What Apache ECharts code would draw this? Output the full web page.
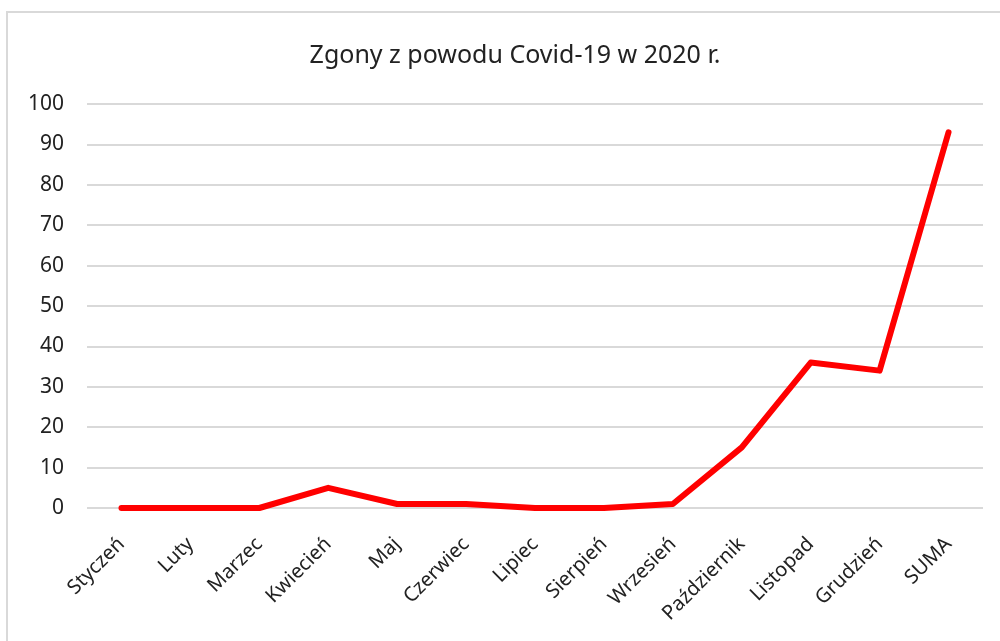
<!DOCTYPE html>
<html>
<head>
<meta charset="utf-8">
<script src="https://cdn.jsdelivr.net/npm/echarts@6/dist/echarts.min.js"></script>
<style>
html, body { margin: 0; padding: 0; background: #fff; }
#chart { width: 1000px; height: 641px; }
</style>
</head>
<body>
<div id="chart"></div>
<script>
// dane
var months = ['Styczeń', 'Luty', 'Marzec', 'Kwiecień', 'Maj', 'Czerwiec', 'Lipiec',
    'Sierpień', 'Wrzesień', 'Październik', 'Listopad', 'Grudzień', 'SUMA'];
var deaths = [0, 0, 0, 5, 1, 1, 0, 0, 1, 15, 36, 34, 93];
var yTicks = [0, 10, 20, 30, 40, 50, 60, 70, 80, 90, 100];

var chartDom = document.getElementById('chart');
var myChart = echarts.init(chartDom);
var font = '"Noto Sans", "Open Sans", sans-serif';
var option = {
    animation: false,
    graphic: [{
        type: 'rect',
        shape: { x: 7, y: 12, width: 1010, height: 700 },
        style: { fill: 'none', stroke: '#d9d9d9', lineWidth: 2 },
        z: -1
    }],
    title: {
        text: 'Zgony z powodu Covid-19 w 2020 r.',
        left: 510,
        textAlign: 'center',
        top: 38,
        textStyle: { fontFamily: font, fontSize: 25, fontWeight: 'normal', color: '#222' }
    },
    grid: { left: 87, right: 17, top: 104, bottom: 133, containLabel: false },
    xAxis: {
        type: 'category',
        data: months,
        boundaryGap: true,
        axisLine: { show: false },
        axisTick: { show: false },
        axisLabel: {
            rotate: 45,
            interval: 0,
            margin: 33,
            fontFamily: font,
            fontSize: 20,
            color: '#222'
        }
    },
    yAxis: {
        type: 'value',
        min: yTicks[0],
        max: yTicks[yTicks.length - 1],
        interval: 10,
        axisLine: { show: false },
        axisTick: { show: false },
        axisLabel: { margin: 23, fontFamily: font, fontSize: 21, color: '#222' },
        splitLine: { lineStyle: { color: '#d9d9d9', width: 2 } }
    },
    series: [{
        name: 'Zgony',
        type: 'line',
        data: deaths,
        symbol: 'none',
        lineStyle: { color: '#ff0000', width: 6, cap: 'round', join: 'round' }
    }]
};
option && myChart.setOption(option);
</script>
</body>
</html>
